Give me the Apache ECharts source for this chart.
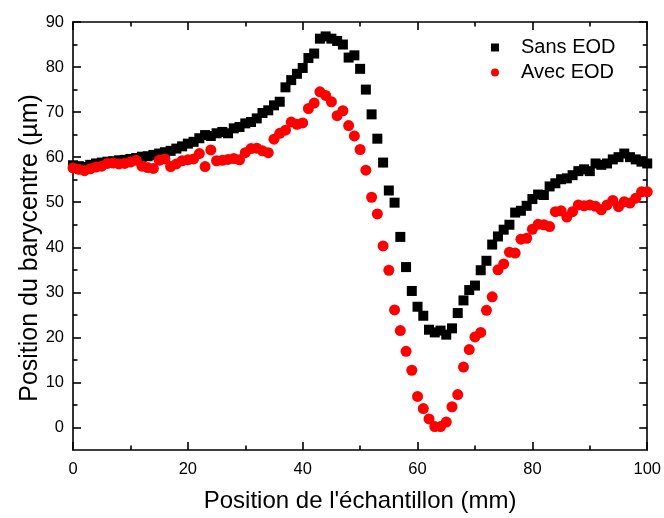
<!DOCTYPE html>
<html>
<head>
<meta charset="utf-8">
<script src="https://cdn.jsdelivr.net/npm/echarts@6/dist/echarts.min.js"></script>
<style>
html,body{margin:0;padding:0;background:#fff;}
#chart{width:664px;height:518px;}
</style>
</head>
<body>
<div id="chart"></div>
<script>
// Sample positions (mm)
var positions = [0,1,2,3,4,5,6,7,8,9,10,11,12,13,14,15,16,17,18,19,20,21,22,23,24,25,26,27,28,29,30,31,32,33,34,35,36,37,38,39,40,41,42,43,44,45,46,47,48,49,50,51,52,53,54,55,56,57,58,59,60,61,62,63,64,65,66,67,68,69,70,71,72,73,74,75,76,77,78,79,80,81,82,83,84,85,86,87,88,89,90,91,92,93,94,95,96,97,98,99,100];

// Barycentre position (µm) without EOD
var sansEOD = [58.2,58.0,57.8,58.3,58.6,58.8,59.0,59.1,59.3,59.4,
  59.6,59.8,60.1,60.2,60.5,60.8,61.1,61.4,61.9,62.4,
  63.0,63.4,64.2,64.9,64.7,65.3,65.6,65.3,66.4,66.7,
  67.5,67.8,68.6,69.8,70.4,71.5,72.3,75.5,77.1,78.5,
  79.8,82.0,83.0,86.3,86.8,86.3,85.8,85.0,82.1,82.6,
  79.6,75.0,69.5,64.1,58.8,52.6,49.9,42.3,35.6,30.3,
  26.8,24.8,21.7,21.1,21.5,20.6,22.0,25.4,28.2,30.5,
  31.5,34.9,37.0,40.6,42.4,43.9,45.0,47.7,48.1,49.2,
  50.7,51.7,51.6,53.5,54.2,55.1,55.3,56.0,56.9,57.3,
  56.9,58.6,58.3,58.6,59.5,60.0,60.8,60.0,59.5,59.0,
  58.6];

// Barycentre position (µm) with EOD
var avecEOD = [57.6,57.3,57.0,57.4,57.8,58.0,58.6,58.7,58.5,58.6,
  58.9,59.3,58.0,57.7,57.5,59.3,59.6,57.9,58.5,59.2,
  59.4,59.6,60.8,57.9,61.6,59.2,59.3,59.5,59.7,59.4,
  61.0,61.9,62.0,61.4,61.0,64.0,65.3,66.0,67.8,67.3,
  67.6,70.8,72.0,74.5,73.7,72.3,69.2,70.3,67.0,64.7,
  61.7,57.1,51.1,47.4,40.3,34.9,26.1,21.5,16.9,12.7,
  6.9,4.2,1.9,0.2,0.2,1.2,4.6,7.3,13.4,17.3,
  20.1,21.1,26.0,29.0,35.0,36.3,38.9,38.7,41.8,42.0,
  44.0,45.1,45.0,44.6,47.9,48.1,46.7,47.9,49.4,49.2,
  49.4,49.1,48.3,49.4,50.4,49.0,50.1,49.8,50.9,52.3,
  52.3];

var yMajorTicks = [0,10,20,30,40,50,60,70,80,90];
var yMinorTicks = [5,15,25,35,45,55,65,75,85];
var seriesNames = ['Sans EOD','Avec EOD'];
var xTitle = "Position de l'échantillon (mm)";
var yTitle = 'Position du barycentre (µm)';

function pairs(xs, ys){ var out=[]; for(var i=0;i<xs.length;i++){ out.push([xs[i], ys[i]]); } return out; }

var FONT = '"Liberation Sans", Arial, sans-serif';
var lineStyle = {color:'#000', width:1.6};

function xAx(pos, showLabel){
  return {
    type:'value', position:pos, min:0, max:100, interval:20,
    axisLine:{show:true, onZero:false, lineStyle:lineStyle},
    axisTick:{show:true, inside:true, length:8, lineStyle:lineStyle},
    minorTick:{show:true, splitNumber:2, length:4.5, lineStyle:lineStyle},
    splitLine:{show:false}, minorSplitLine:{show:false},
    axisLabel:{show:showLabel, fontSize:16.5, color:'#000', fontFamily:FONT, margin:11},
    name: showLabel ? xTitle : '',
    nameLocation:'middle', nameGap:39,
    nameTextStyle:{fontSize:24, color:'#000', fontFamily:FONT}
  };
}
function yAx(pos, ticks, len, showLine, showLabel){
  return {
    type:'value', position:pos, min:-5, max:90, offset:0,
    axisLine:{show:showLine, onZero:false, lineStyle:lineStyle},
    axisTick:{show:true, inside:true, length:len, customValues:ticks, lineStyle:lineStyle},
    splitLine:{show:false},
    axisLabel:{show:showLabel, customValues:ticks, fontSize:16.5, color:'#000', fontFamily:FONT, margin:9}
  };
}

var chart = echarts.init(document.getElementById('chart'), null, {renderer:'canvas'});
chart.setOption({
  animation:false,
  backgroundColor:'#fff',
  grid:{left:73, right:12, top:22, bottom:66, containLabel:false},
  xAxis:[xAx('bottom', true), xAx('top', false)],
  yAxis:[
    yAx('left', yMajorTicks, 8, true, true),
    yAx('left', yMinorTicks, 4.5, false, false),
    yAx('right', yMajorTicks, 8, true, false),
    yAx('right', yMinorTicks, 4.5, false, false)
  ],
  legend:{
    orient:'vertical', left:491, top:37, padding:0,
    itemWidth:8, itemHeight:8, itemGap:4,
    data:[{name:seriesNames[0], icon:'rect'},{name:seriesNames[1], icon:'circle'}],
    textStyle:{fontSize:20, color:'#000', fontFamily:FONT, lineHeight:21, padding:[0,0,0,17]}
  },
  graphic:[{
    type:'text', x:30, y:248, rotation:Math.PI/2,
    style:{text:yTitle, fontSize:25, fontFamily:FONT, fill:'#000', align:'center', verticalAlign:'middle'}
  }],
  series:[
    {name:seriesNames[0], type:'scatter', symbol:'rect', symbolSize:10,
     itemStyle:{color:'#000', opacity:1}, data:pairs(positions, sansEOD), silent:true},
    {name:seriesNames[1], type:'scatter', symbol:'circle', symbolSize:11,
     itemStyle:{color:'#ff0000', opacity:1}, data:pairs(positions, avecEOD), silent:true}
  ]
});
</script>
</body>
</html>
